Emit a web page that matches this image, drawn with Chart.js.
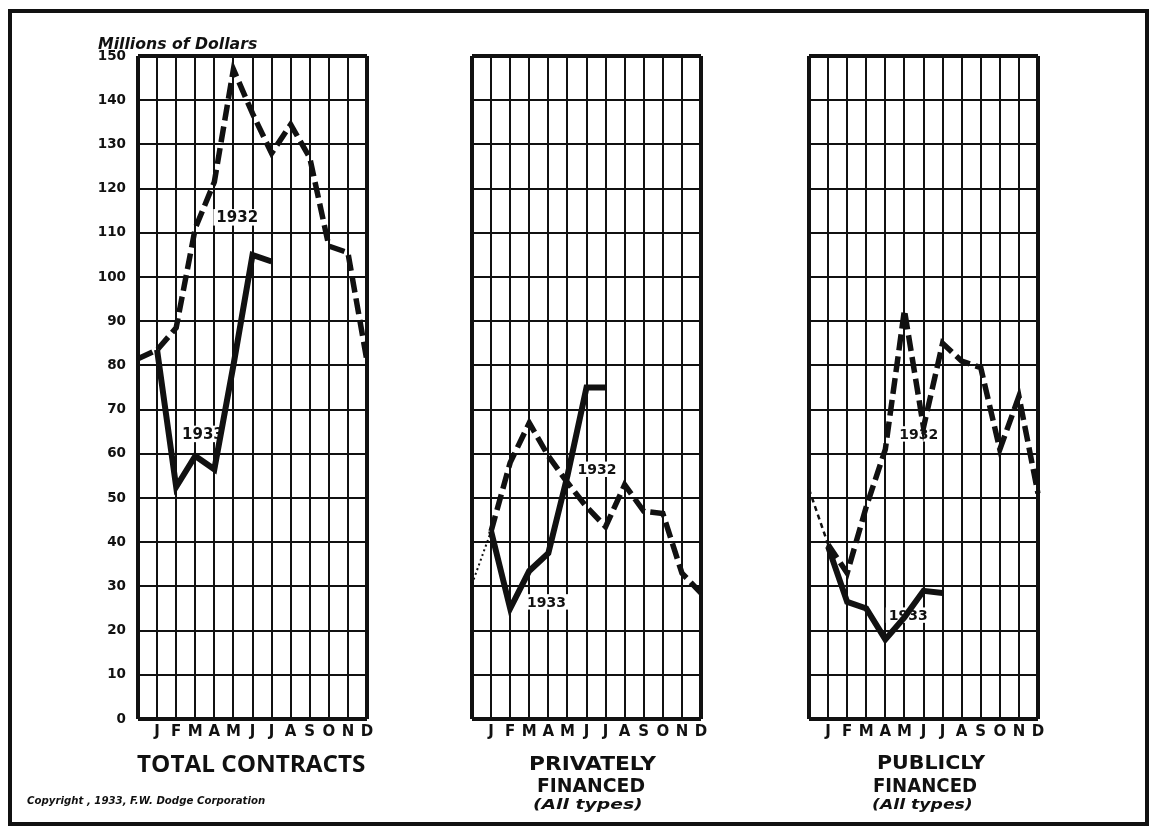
<!DOCTYPE html>
<html>
<head>
<meta charset="utf-8">
<title>Construction contracts 1932-1933</title>
<script src="https://cdn.jsdelivr.net/npm/chart.js@4.4.1/dist/chart.umd.min.js"></script>
<style>
  html, body { margin: 0; padding: 0; background: #fff; }
  #page { position: relative; width: 1153px; height: 828px; overflow: hidden; background: #fff; }
  #frame { position: absolute; left: 8px; top: 9px; width: 1141px; height: 817px;
           border: 4px solid #111; box-sizing: border-box; }
  canvas { position: absolute; }
  .txt { position: absolute; white-space: nowrap; line-height: 1; color: #111;
         transform-origin: 0 0; font-family: "DejaVu Sans", sans-serif; }
  .head  { font-weight: bold; font-size: 20px; }
  .total { font-family: "Open Sans", "DejaVu Sans", sans-serif; font-weight: 700; font-size: 23px; }
  .ital  { font-weight: bold; font-style: italic; }
</style>
</head>
<body>
<div id="page">
  <div id="frame"></div>

  <canvas id="chart-total" width="311" height="709" style="left:68px;top:44px"></canvas>
  <canvas id="chart-private" width="253" height="709" style="left:460px;top:44px"></canvas>
  <canvas id="chart-public" width="253" height="709" style="left:797px;top:44px"></canvas>

  <div class="txt ital" style="font-size:16px" data-cx="177" data-cy="44" data-w="159">Millions of Dollars</div>

  <div class="txt total" data-cx="251" data-cy="763.5" data-w="228">TOTAL CONTRACTS</div>

  <div class="txt head" data-cx="592" data-cy="762.5" data-w="127">PRIVATELY</div>
  <div class="txt head" data-cx="591" data-cy="784.5" data-w="108">FINANCED</div>
  <div class="txt ital" style="font-size:14px" data-cx="588" data-cy="804" data-w="110">(All types)</div>

  <div class="txt head" data-cx="931" data-cy="762" data-w="108">PUBLICLY</div>
  <div class="txt head" data-cx="925" data-cy="784.5" data-w="104">FINANCED</div>
  <div class="txt ital" style="font-size:14px" data-cx="922" data-cy="804" data-w="101">(All types)</div>

  <div class="txt ital" style="font-size:11px" data-cx="146" data-cy="800" data-w="238">Copyright , 1933, F.W. Dodge Corporation</div>
</div>

<script>
// --- Data (millions of dollars; first slot is the month before January) ---
const months = ['', 'J', 'F', 'M', 'A', 'M', 'J', 'J', 'A', 'S', 'O', 'N', 'D'];
const yTickLabels = ['0', '10', '20', '30', '40', '50', '60', '70', '80', '90',
                     '100', '110', '120', '130', '140', '150'];

const total1932   = [81.5, 83.5, 88.5, 111, 121.5, 147, 137, 128, 134.5, 127, 107, 105.5, 81];
const total1933   = [null, 83.5, 52.5, 59.5, 56.5, 80, 105, 103.5, null, null, null, null, null];

const private1932 = [30.5, 42.5, 58, 67, 59.5, 53.5, 48, 43.5, 53, 47, 46.5, 33, 28.5];
const private1933 = [null, 42.5, 25, 33.5, 37.5, 55, 75, 75, null, null, null, null, null];

const public1932  = [52, 39.5, 33, 48, 61, 92.5, 66, 85, 81, 79.5, 61, 73, 51];
const public1933  = [null, 39, 26.5, 25, 18, 23, 29, 28.5, null, null, null, null, null];

// year labels, in chart coordinates (month slot, value)
const totalNotes   = [{ text: '1932', x: 5.2, y: 113.5 }, { text: '1933', x: 3.4, y: 64.5 }];
const privateNotes = [{ text: '1932', x: 6.55, y: 56.5 }, { text: '1933', x: 3.9, y: 26.5 }];
const publicNotes  = [{ text: '1932', x: 5.75, y: 64.5 }, { text: '1933', x: 5.2, y: 23.5 }];

// --- Style ---
const INK = '#111';
const FONT = '"DejaVu Sans", sans-serif';
const PAD = 12;

// white knock-out labels drawn under the lines
const notesPlugin = {
  id: 'notes',
  beforeDatasetsDraw(chart, args, opts) {
    const { ctx, scales: { x, y } } = chart;
    ctx.save();
    ctx.font = `bold ${opts.size}px ${FONT}`;
    ctx.textAlign = 'center';
    ctx.textBaseline = 'middle';
    (opts.items || []).forEach(n => {
      const px = x.getPixelForValue(n.x);
      const py = y.getPixelForValue(n.y);
      const w = ctx.measureText(n.text).width;
      ctx.fillStyle = '#fff';
      ctx.fillRect(px - w / 2 - 3, py - opts.size * 0.55, w + 6, opts.size * 1.1);
      ctx.fillStyle = INK;
      ctx.fillText(n.text, px, py + 1);
    });
    ctx.restore();
  }
};

function makePanel(id, s1932, s1933, notes, opts) {
  const lead = opts.lead;
  return new Chart(document.getElementById(id), {
    type: 'line',
    data: {
      labels: months,
      datasets: [
        {
          label: '1932',
          data: s1932,
          borderColor: INK,
          borderWidth: 5.5,
          borderDash: [16, 6],
          borderCapStyle: 'butt',
          borderJoinStyle: 'miter',
          pointRadius: 0,
          tension: 0,
          fill: false,
          segment: {
            borderWidth: c => (lead && c.p0DataIndex === 0) ? lead.width : undefined,
            borderDash:  c => (lead && c.p0DataIndex === 0) ? lead.dash : undefined,
          }
        },
        {
          label: '1933',
          data: s1933,
          borderColor: INK,
          borderWidth: 6,
          borderCapStyle: 'butt',
          borderJoinStyle: 'miter',
          pointRadius: 0,
          tension: 0,
          fill: false,
          spanGaps: false,
        }
      ]
    },
    options: {
      responsive: false,
      animation: false,
      devicePixelRatio: 1,
      events: [],
      layout: { padding: { top: PAD, right: PAD, left: 0, bottom: 0 } },
      plugins: {
        legend: { display: false },
        tooltip: { enabled: false },
        notes: { items: notes, size: opts.noteSize }
      },
      scales: {
        x: {
          type: 'category',
          offset: false,
          border: { display: false },
          grid: {
            color: INK,
            lineWidth: c => (c.index === 0 || c.index === months.length - 1) ? 4 : 2,
            drawTicks: false,
          },
          ticks: {
            autoSkip: false,
            maxRotation: 0,
            minRotation: 0,
            color: INK,
            padding: 4,
            font: { family: FONT, weight: 'bold', size: 15 },
          },
          afterFit: s => { s.height = 34; s.paddingLeft = 0; s.paddingRight = 0; }
        },
        y: {
          min: 0,
          max: 150,
          border: { display: false },
          grid: {
            color: INK,
            lineWidth: c => (c.index === 0 || c.index === yTickLabels.length - 1) ? 4 : 2,
            drawTicks: false,
          },
          ticks: {
            display: opts.showY,
            stepSize: 10,
            color: INK,
            padding: 12,
            font: { family: FONT, weight: 'bold', size: 13.5 },
            callback: (v, i) => yTickLabels[i],
          },
          afterFit: s => { s.width = opts.axisWidth; s.paddingTop = 0; s.paddingBottom = 0; }
        }
      }
    },
    plugins: [notesPlugin]
  });
}

makePanel('chart-total', total1932, total1933, totalNotes,
  { showY: true, axisWidth: 70, noteSize: 15, lead: null });
makePanel('chart-private', private1932, private1933, privateNotes,
  { showY: false, axisWidth: PAD, noteSize: 14, lead: { width: 2, dash: [2, 3] } });
makePanel('chart-public', public1932, public1933, publicNotes,
  { showY: false, axisWidth: PAD, noteSize: 14, lead: { width: 2.5, dash: [5, 4] } });

// --- Fit the lettering to the widths ---
document.querySelectorAll('.txt').forEach(el => {
  const size = parseFloat(getComputedStyle(el).fontSize);
  const w = el.offsetWidth;
  const target = +el.dataset.w;
  el.style.left = (+el.dataset.cx - target / 2) + 'px';
  el.style.top  = (+el.dataset.cy - 0.48 * size) + 'px';
  el.style.transform = `scaleX(${target / w})`;
});
</script>
</body>
</html>
